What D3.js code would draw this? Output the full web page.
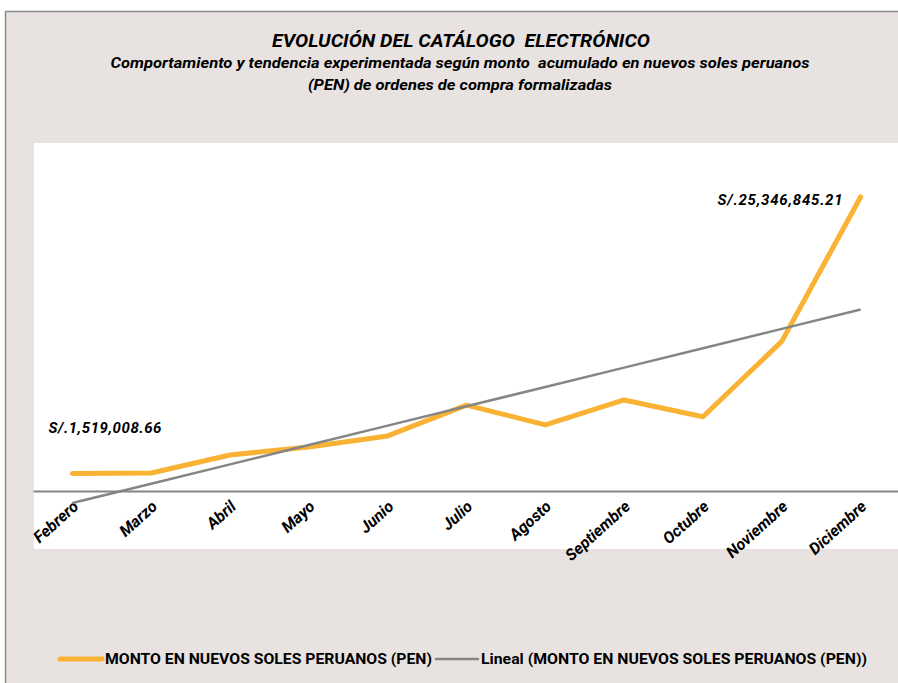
<!DOCTYPE html>
<html>
<head>
<meta charset="utf-8">
<script src="https://cdn.jsdelivr.net/npm/d3@7"></script>
<style>
    body { margin: 0; background: #fff; }
    text { font-family: "Liberation Sans Narrow", "Roboto", sans-serif; white-space: pre; }
</style>
</head>
<body>
<div id="chart"></div>
<script>
// meses de la serie
var meses = ["Febrero", "Marzo", "Abril", "Mayo", "Junio", "Julio", "Agosto",
    "Septiembre", "Octubre", "Noviembre", "Diciembre"];

// monto acumulado en PEN (extremos segun etiquetas)
var montos = [1519008.66, 1550000, 3100000, 3800000, 4750000, 7400000, 5700000,
    7850000, 6400000, 12900000, 25346845.21];

var titulo = "EVOLUCIÓN DEL CATÁLOGO  ELECTRÓNICO";
var subtitulo = ["Comportamiento y tendencia experimentada según monto  acumulado en nuevos soles peruanos",
    "(PEN) de ordenes de compra formalizadas"];
var leyenda = ["MONTO EN NUEVOS SOLES PERUANOS (PEN)", "Lineal (MONTO EN NUEVOS SOLES PERUANOS (PEN))"];

var width = 898,
    height = 683;

var naranja = "#F9B233",
    gris = "#858585";

var svg = d3.select("#chart")
    .append("svg")
    .attr("width", width)
    .attr("height", height);

// fondo y borde
svg.append("rect")
    .attr("x", 0).attr("y", 0)
    .attr("width", width).attr("height", height)
    .style("fill", "#fff");

svg.append("rect")
    .attr("x", 5.5).attr("y", 11.5)
    .attr("width", width + 10).attr("height", height)
    .style("fill", "#E8E3E0")
    .style("stroke", "#8c8c8c")
    .style("stroke-width", 1.5);

// area de trazado
svg.append("rect")
    .attr("x", 34).attr("y", 143)
    .attr("width", width - 34).attr("height", 549 - 143)
    .style("fill", "#fff");

var x = d3.scaleBand()
    .domain(meses)
    .range([33, 900])
    .paddingInner(0)
    .paddingOuter(0);

var y = d3.scaleLinear()
    .domain([-5000000, 30000000])
    .range([549, 143]);

function cx(m) {
    return x(m) + x.bandwidth() / 2;
}

// tendencia lineal (minimos cuadrados)
var n = montos.length;
var mx = d3.mean(montos, function (d, i) { return i; });
var my = d3.mean(montos);
var sxy = d3.sum(montos, function (d, i) { return (i - mx) * (d - my); });
var sxx = d3.sum(montos, function (d, i) { return (i - mx) * (i - mx); });
var pendiente = sxy / sxx;
var intercepto = my - pendiente * mx;
var tendencia = montos.map(function (d, i) { return intercepto + pendiente * i; });

// eje x
var xAxis = svg.append("g")
    .attr("transform", "translate(0," + y(0) + ")")
    .call(d3.axisBottom(x).tickSize(0).tickSizeOuter(0));

xAxis.select(".domain")
    .style("stroke", gris)
    .style("stroke-width", 2);

xAxis.selectAll("text")
    .attr("x", 0).attr("y", 0).attr("dy", 0)
    .attr("text-anchor", "end")
    .attr("transform", "translate(7,17) rotate(-42)")
    .style("font-size", "16px")
    .style("font-weight", "bold")
    .style("font-style", "italic")
    .style("fill", "#000");

var line = d3.line()
    .x(function (d, i) { return cx(meses[i]); })
    .y(function (d) { return y(d); });

svg.append("path")
    .datum(montos)
    .attr("d", line)
    .style("fill", "none")
    .style("stroke", naranja)
    .style("stroke-width", 5)
    .style("stroke-linecap", "round")
    .style("stroke-linejoin", "round");

svg.append("path")
    .datum(tendencia)
    .attr("d", line)
    .style("fill", "none")
    .style("stroke", gris)
    .style("stroke-width", 2.5);

// etiquetas de datos
function soles(v) {
    return "S/." + d3.format(",.2f")(v);
}

svg.append("text")
    .attr("x", cx(meses[0]) - 24)
    .attr("y", y(montos[0]) - 40)
    .text(soles(montos[0]))
    .style("font-size", "15px")
    .style("font-weight", "bold")
    .style("font-style", "italic")
    .attr("textLength", 113);

svg.append("text")
    .attr("x", cx(meses[n - 1]) - 143)
    .attr("y", y(montos[n - 1]) + 8)
    .text(soles(montos[n - 1]))
    .style("font-size", "15px")
    .style("font-weight", "bold")
    .style("font-style", "italic")
    .attr("textLength", 125);

// titulos
svg.append("text")
    .attr("x", 461).attr("y", 47)
    .attr("text-anchor", "middle")
    .text(titulo)
    .style("font-size", "18px")
    .style("font-weight", "bold")
    .style("font-style", "italic")
    .attr("textLength", 378)
    .attr("lengthAdjust", "spacingAndGlyphs");

svg.selectAll(".sub")
    .data(subtitulo)
    .enter().append("text")
    .attr("class", "sub")
    .attr("x", 460)
    .attr("y", function (d, i) { return 68 + i * 22; })
    .attr("text-anchor", "middle")
    .text(function (d) { return d; })
    .style("font-size", "14px")
    .style("font-weight", "bold")
    .style("font-style", "italic")
    .attr("textLength", function (d, i) { return i === 0 ? 699 : 304; })
    .attr("lengthAdjust", "spacingAndGlyphs");

// leyenda
var ley = [
    {x1: 60, x2: 102, tx: 105, tw: 327, color: naranja, ancho: 5},
    {x1: 436, x2: 478, tx: 481, tw: 386, color: gris, ancho: 2.5}
];

var lg = svg.selectAll(".ley")
    .data(ley)
    .enter().append("g")
    .attr("class", "ley");

lg.append("line")
    .attr("x1", function (d) { return d.x1; })
    .attr("x2", function (d) { return d.x2; })
    .attr("y1", 659).attr("y2", 659)
    .style("stroke", function (d) { return d.color; })
    .style("stroke-width", function (d) { return d.ancho; })
    .style("stroke-linecap", "round");

lg.append("text")
    .attr("x", function (d) { return d.tx; })
    .attr("y", 664)
    .text(function (d, i) { return leyenda[i]; })
    .style("font-size", "14px")
    .style("font-weight", "bold")
    .attr("textLength", function (d) { return d.tw; })
    .attr("lengthAdjust", "spacingAndGlyphs");
</script>
</body>
</html>
